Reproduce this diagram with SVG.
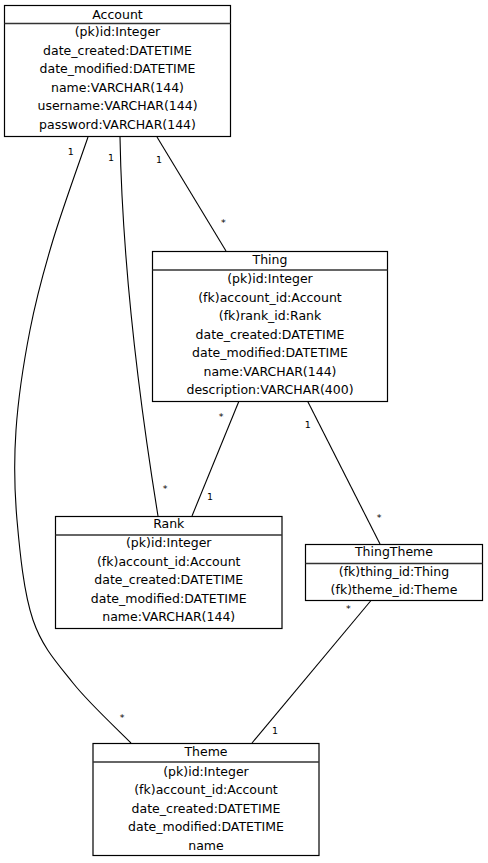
<svg xmlns="http://www.w3.org/2000/svg" width="488" height="863" viewBox="0 0 488 863">
<style>
.box{fill:#fff;stroke:#000;stroke-width:1.2}
.hdr{stroke:#333;stroke-width:1.5}
.t{font-family:"DejaVu Sans",sans-serif;font-size:12.5px;fill:#000;text-anchor:middle}
.c{fill:none;stroke:#000;stroke-width:1.1}
.m{font-family:"DejaVu Sans",sans-serif;font-size:9.5px;fill:#000;text-anchor:middle}
</style>
<rect width="488" height="863" fill="#fff"/>
<g id="connectors">
<path class="c" d="M157,137 L226,251"/>
<path class="c" d="M120,137 Q123,300 158,516"/>
<path class="c" d="M88,137 C82.2,154.2 62.7,207.8 53,240 C43.3,272.2 36.2,298.3 30,330 C23.8,361.7 18.2,398.3 16,430 C13.8,461.7 14.2,488.3 17,520 C19.8,551.7 23.7,592.8 33,620 C42.3,647.2 56.7,662.5 73,683 C89.3,703.5 121.3,733 131,743"/>
<path class="c" d="M239,401 L192,516"/>
<path class="c" d="M307.5,401 L380,544"/>
<path class="c" d="M371,600.5 L252,743"/>
<text class="m" x="70.7" y="155">1</text>
<text class="m" x="111" y="161">1</text>
<text class="m" x="159" y="163">1</text>
<text class="m" x="223.3" y="226">*</text>
<text class="m" x="165" y="492">*</text>
<text class="m" x="122" y="721">*</text>
<text class="m" x="221" y="419.5">*</text>
<text class="m" x="210" y="500">1</text>
<text class="m" x="307.7" y="427.5">1</text>
<text class="m" x="379" y="520.5">*</text>
<text class="m" x="348.3" y="612">*</text>
<text class="m" x="275" y="734">1</text>
</g>
<g id="Account">
<rect class="box" x="4.5" y="5.5" width="226" height="131"/>
<line class="hdr" x1="4.5" y1="23.5" x2="230.5" y2="23.5"/>
<text class="t" x="117.5" y="18.5">Account</text>
<text class="t" x="117.5" y="36">(pk)id:Integer</text>
<text class="t" x="117.5" y="54.6">date_created:DATETIME</text>
<text class="t" x="117.5" y="73.2">date_modified:DATETIME</text>
<text class="t" x="117.5" y="91.8">name:VARCHAR(144)</text>
<text class="t" x="117.5" y="110.4">username:VARCHAR(144)</text>
<text class="t" x="117.5" y="129">password:VARCHAR(144)</text>
</g>
<g id="Thing">
<rect class="box" x="152.5" y="251.5" width="235" height="150"/>
<line class="hdr" x1="152.5" y1="270" x2="387.5" y2="270"/>
<text class="t" x="270" y="264">Thing</text>
<text class="t" x="270" y="283">(pk)id:Integer</text>
<text class="t" x="270" y="301.5">(fk)account_id:Account</text>
<text class="t" x="270" y="320">(fk)rank_id:Rank</text>
<text class="t" x="270" y="338.5">date_created:DATETIME</text>
<text class="t" x="270" y="357">date_modified:DATETIME</text>
<text class="t" x="270" y="375.5">name:VARCHAR(144)</text>
<text class="t" x="270" y="394">description:VARCHAR(400)</text>
</g>
<g id="Rank">
<rect class="box" x="55.5" y="516.5" width="226.5" height="112"/>
<line class="hdr" x1="55.5" y1="535" x2="282" y2="535"/>
<text class="t" x="168.75" y="528">Rank</text>
<text class="t" x="168.75" y="547">(pk)id:Integer</text>
<text class="t" x="168.75" y="565.5">(fk)account_id:Account</text>
<text class="t" x="168.75" y="584">date_created:DATETIME</text>
<text class="t" x="168.75" y="602.5">date_modified:DATETIME</text>
<text class="t" x="168.75" y="621">name:VARCHAR(144)</text>
</g>
<g id="ThingTheme">
<rect class="box" x="305.5" y="544.5" width="177" height="56"/>
<line class="hdr" x1="305.5" y1="563.5" x2="482.5" y2="563.5"/>
<text class="t" x="394" y="556">ThingTheme</text>
<text class="t" x="394" y="575.5">(fk)thing_id:Thing</text>
<text class="t" x="394" y="594">(fk)theme_id:Theme</text>
</g>
<g id="Theme">
<rect class="box" x="93" y="743.5" width="226" height="112"/>
<line class="hdr" x1="93" y1="762" x2="319" y2="762"/>
<text class="t" x="206" y="756">Theme</text>
<text class="t" x="206" y="775.5">(pk)id:Integer</text>
<text class="t" x="206" y="794">(fk)account_id:Account</text>
<text class="t" x="206" y="812.5">date_created:DATETIME</text>
<text class="t" x="206" y="831">date_modified:DATETIME</text>
<text class="t" x="206" y="849.5">name</text>
</g>
</svg>
